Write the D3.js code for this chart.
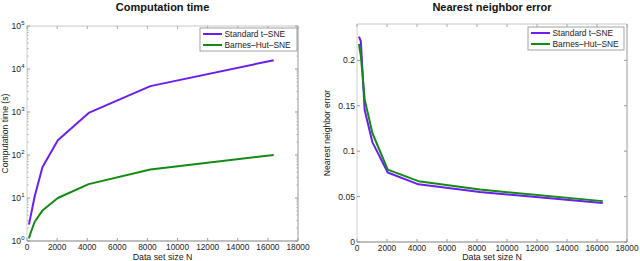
<!DOCTYPE html>
<html>
<head>
<meta charset="utf-8">
<script src="https://cdn.jsdelivr.net/npm/d3@7"></script>
<style>
  body { margin: 0; background: #fff; }
  svg { display: block; font-family: "Liberation Sans", Arial, sans-serif; }
</style>
</head>
<body>
<svg id="chart" width="640" height="261"></svg>
<script>
// data
const sizes = [128, 256, 512, 1024, 2048, 4096, 8192, 16384];
const timeStandard = [2.4, 4, 11, 52, 220, 950, 4000, 16000];
const timeBarnesHut = [1.15, 1.6, 2.8, 5.1, 10, 21, 46, 100];
const errStandard = [0.226, 0.221, 0.145, 0.11, 0.0765, 0.0635, 0.055, 0.043];
const errBarnesHut = [0.218, 0.205, 0.157, 0.12, 0.0797, 0.067, 0.0577, 0.045];
const seriesNames = ["Standard t\u2013SNE", "Barnes\u2013Hut\u2013SNE"];
const xTicks = [0, 2000, 4000, 6000, 8000, 10000, 12000, 14000, 16000, 18000];
const logTicks = [1, 10, 100, 1000, 10000, 100000];
const errTicks = [0, 0.05, 0.1, 0.15, 0.2];

const purple = "#6a1ef2";
const green = "#138a13";

const svg = d3.select("#chart");

function drawPanel(opts) {
    const g = svg.append("g");
    const x = d3.scaleLinear().domain([0, 18000]).range(opts.xRange);
    const y = opts.y;
    const [x0, x1] = opts.xRange;
    const [y0, y1] = y.range(); // y0 bottom, y1 top

    // frame: top and left look faint, bottom and right darker
    g.append("line").attr("x1", x0).attr("x2", x1).attr("y1", y1).attr("y2", y1)
        .attr("stroke", "#c8c8c8").attr("stroke-width", 1);
    g.append("line").attr("x1", x0).attr("x2", x0).attr("y1", y1).attr("y2", y0)
        .attr("stroke", "#d0d0d0").attr("stroke-width", 1);
    g.append("line").attr("x1", x1).attr("x2", x1).attr("y1", y1).attr("y2", y0)
        .attr("stroke", "#9a9a9a").attr("stroke-width", 1);
    g.append("line").attr("x1", x0).attr("x2", x1).attr("y1", y0).attr("y2", y0)
        .attr("stroke", "#808080").attr("stroke-width", 1.2);

    // x ticks (inside, top and bottom)
    xTicks.forEach(t => {
        const px = x(t);
        g.append("line").attr("x1", px).attr("x2", px).attr("y1", y0).attr("y2", y0 - 3)
            .attr("stroke", "#999");
        g.append("line").attr("x1", px).attr("x2", px).attr("y1", y1).attr("y2", y1 + 3)
            .attr("stroke", "#aaa");
        g.append("text").attr("x", px).attr("y", y0 + 8.5)
            .attr("text-anchor", "middle").attr("font-size", 8.3).attr("fill", "#222")
            .text(t);
    });

    // y ticks
    opts.yMinor.forEach(t => {
        const py = y(t);
        g.append("line").attr("x1", x0).attr("x2", x0 + 1.5).attr("y1", py).attr("y2", py)
            .attr("stroke", "#aaa");
        g.append("line").attr("x1", x1).attr("x2", x1 - 1.5).attr("y1", py).attr("y2", py)
            .attr("stroke", "#aaa");
    });
    opts.yTicks.forEach(t => {
        const py = y(t);
        g.append("line").attr("x1", x0).attr("x2", x0 + 3).attr("y1", py).attr("y2", py)
            .attr("stroke", "#999");
        g.append("line").attr("x1", x1).attr("x2", x1 - 3).attr("y1", py).attr("y2", py)
            .attr("stroke", "#999");
        opts.yLabel(g, t, x0 - 2, py);
    });

    // series
    const line = d3.line().x((d, i) => x(sizes[i])).y(d => y(d));
    opts.series.forEach((vals, k) => {
        g.append("path").datum(vals)
            .attr("d", line)
            .attr("fill", "none")
            .attr("stroke", k === 0 ? purple : green)
            .attr("stroke-width", 2)
            .attr("stroke-linejoin", "round");
    });

    // legend
    const lg = opts.legend;
    g.append("rect").attr("x", lg.x).attr("y", lg.y).attr("width", lg.w).attr("height", 23)
        .attr("fill", "#fff").attr("stroke", "#8a8a8a").attr("stroke-width", 0.8);
    seriesNames.forEach((name, k) => {
        const ly = lg.y + 6 + k * 11;
        g.append("line").attr("x1", lg.x + 3).attr("x2", lg.x + 22).attr("y1", ly).attr("y2", ly)
            .attr("stroke", k === 0 ? purple : green).attr("stroke-width", 2);
        g.append("text").attr("x", lg.x + 24.5).attr("y", ly + 3)
            .attr("font-size", 8.4).attr("fill", "#222").text(name);
    });

    // titles
    const cx = (x0 + x1) / 2;
    g.append("text").attr("x", cx).attr("y", 10.5)
        .attr("text-anchor", "middle").attr("font-size", 11).attr("font-weight", "bold")
        .attr("fill", "#111").text(opts.title);
    g.append("text").attr("x", cx).attr("y", 259.5)
        .attr("text-anchor", "middle").attr("font-size", 8.8).attr("fill", "#222")
        .text("Data set size N");
    g.append("text")
        .attr("transform", `translate(${opts.yTitleX},${(y0 + y1) / 2}) rotate(-90)`)
        .attr("text-anchor", "middle").attr("font-size", 8.6).attr("fill", "#222")
        .text(opts.yTitle);
}

// left: computation time, log scale
const yTime = d3.scaleLog().domain([1, 100000]).range([241, 26]);
const timeMinor = [];
for (let d = 1; d < 100000; d *= 10) {
    for (let m = 2; m < 10; m++) timeMinor.push(d * m);
}
drawPanel({
    xRange: [27, 298],
    y: yTime,
    yTicks: logTicks,
    yMinor: timeMinor,
    yLabel: (g, t, px, py) => {
        const txt = g.append("text").attr("x", px - 4).attr("y", py + 3)
            .attr("text-anchor", "end").attr("font-size", 8.6).attr("fill", "#222");
        txt.append("tspan").text("10");
        g.append("text").attr("x", px - 0.5).attr("y", py - 1.5)
            .attr("text-anchor", "end").attr("font-size", 6).attr("fill", "#222")
            .text(Math.round(Math.log10(t)));
    },
    series: [timeStandard, timeBarnesHut],
    legend: { x: 200, y: 28, w: 97 },
    title: "Computation time",
    yTitle: "Computation time (s)",
    yTitleX: 8
});

// right: nearest neighbor error
const yErr = d3.scaleLinear().domain([0, 0.24]).range([242, 24]);
drawPanel({
    xRange: [357, 627],
    y: yErr,
    yTicks: errTicks,
    yMinor: [],
    yLabel: (g, t, px, py) => {
        g.append("text").attr("x", px).attr("y", py + 3)
            .attr("text-anchor", "end").attr("font-size", 8.6).attr("fill", "#222")
            .text(t);
    },
    series: [errStandard, errBarnesHut],
    legend: { x: 528, y: 27, w: 96 },
    title: "Nearest neighbor error",
    yTitle: "Nearest neighbor error",
    yTitleX: 330
});
</script>
</body>
</html>
